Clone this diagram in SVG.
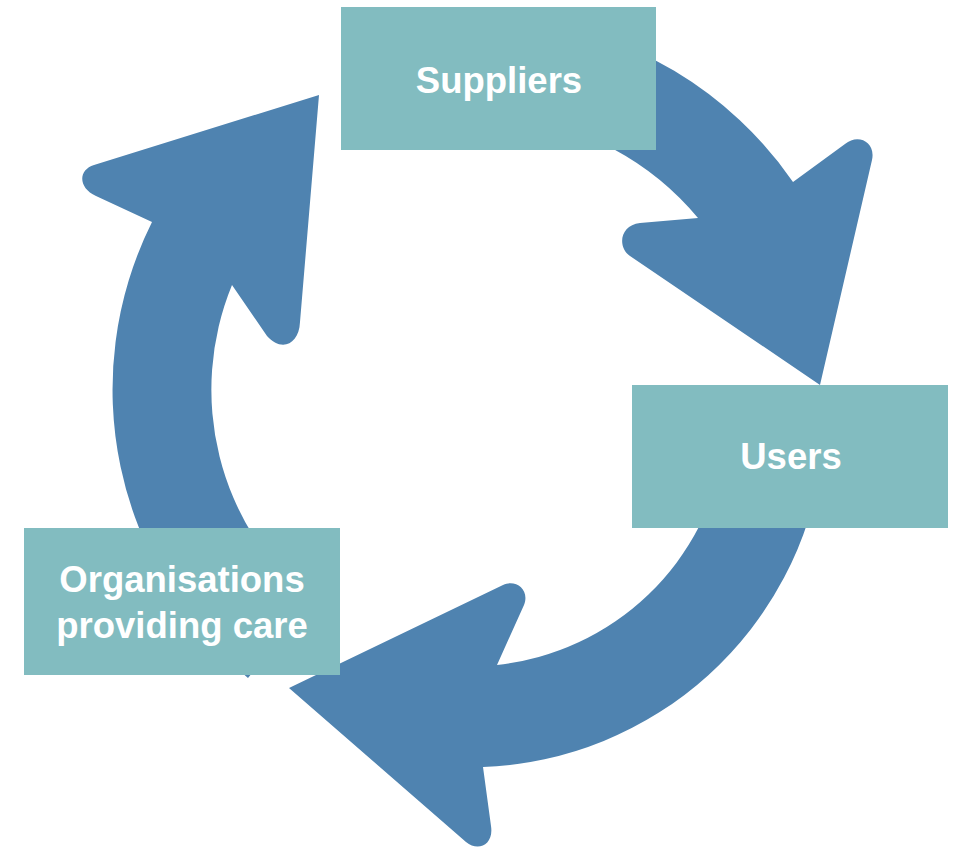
<svg xmlns="http://www.w3.org/2000/svg" width="954" height="848" viewBox="0 0 954 848">
  <style>
    .arrow { fill: #4F83B0; stroke: none; }
    .box { fill: #82BCC0; stroke: none; }
    .label { fill: #FFFFFF; font-family: "Liberation Sans", Arial, sans-serif; font-weight: bold; font-size: 36.5px; text-anchor: middle; }
  </style>
  <rect x="0" y="0" width="954" height="848" fill="#FFFFFF"/>
  <g id="connectors">
    <path id="arrow-org-to-suppliers" class="arrow" d="M 248,678 A 375 375 0 0 1 152,222 L 96,196 C 78,188 78,170 94,165 L 319,95 L 300,322 C 299,345 281,352 267,336 L 232,285 A 276 276 0 0 0 311,602 Z"/>
    <path id="arrow-suppliers-to-users" class="arrow" d="M 520,19 A 383 383 0 0 1 793,182 L 845,144 C 858,133 876,142 872,160 L 820,385 L 630,256 C 617,247 620,225 640,223 L 698,218 A 285 285 0 0 0 510,117 Z"/>
    <path id="arrow-users-to-org" class="arrow" d="M 822,460 A 356 356 0 0 1 483,767 L 491,826 C 494,845 478,852 466,842 L 289,688 L 503,585 C 516,579 530,590 524,605 L 497,665 A 258 258 0 0 0 725,446 Z"/>
  </g>
  <g id="suppliers">
    <rect class="box" x="341" y="7" width="315" height="143"/>
    <text class="label" x="499" y="93">Suppliers</text>
  </g>
  <g id="users">
    <rect class="box" x="632" y="385" width="316" height="143"/>
    <text class="label" x="791" y="469">Users</text>
  </g>
  <g id="organisations">
    <rect class="box" x="24" y="528" width="316" height="147"/>
    <text class="label" x="182" y="592">Organisations</text>
    <text class="label" x="182" y="638">providing care</text>
  </g>
</svg>
